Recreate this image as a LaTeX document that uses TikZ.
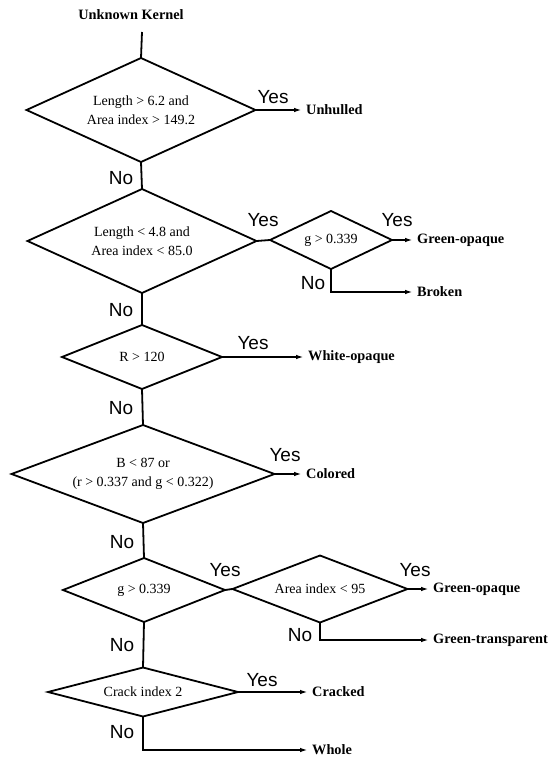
\documentclass[tikz,border=0pt]{standalone}
\usepackage{fontspec}
\setmainfont{Liberation Serif}
\newfontfamily\labsans{Liberation Sans}
\usetikzlibrary{arrows.meta,shapes.geometric}
\newcommand{\condfont}{\fontsize{14}{19.5}\selectfont}
\newcommand{\leaffont}{\fontsize{14.3}{16}\selectfont\bfseries}
\newcommand{\ansfont}{\labsans\fontsize{19}{20}\selectfont}
\tikzset{
  wire/.style={black,line width=1.8pt},
  flow/.style={wire,-{Latex[length=8pt,width=4.5pt]}},
  test/.style={diamond,draw=black,line width=1.8pt,inner sep=0pt,outer sep=0pt,
               align=center,font=\condfont},
  leaf/.style={anchor=west,inner sep=4pt,font=\leaffont},
  ans/.style={inner sep=0pt,font=\ansfont},
}

\begin{document}
\begin{tikzpicture}[x=1pt,y=-1pt]
  \path[use as bounding box] (0,0) rectangle (559,757);
  \node[font=\leaffont] (kernel) at (131,15) {Unknown Kernel};
  \coordinate (entry) at (142,32);

  % tests on the main axis
  \node[test,aspect=2.2,minimum width=229,minimum height=104] (LEN1) at (141,110)
    {Length > 6.2 and\\Area index > 149.2};
  \node[test,aspect=2.2,minimum width=229,minimum height=104] (LEN2) at (142,241)
    {Length < 4.8 and\\Area index < 85.0};
  \node[test,aspect=2.1,minimum width=122,minimum height=58] (G1) at (331,240) {g > 0.339};
  \node[test,aspect=2.5,minimum width=160,minimum height=64] (RED) at (142,357) {R > 120};
  \node[test,aspect=2.68,minimum width=263,minimum height=98] (COL) at (143,474)
    {B < 87 or\\(r > 0.337 and g < 0.322)};
  \node[test,aspect=2.53,minimum width=162,minimum height=64] (G2) at (144,590) {g > 0.339};
  \node[test,aspect=2.61,minimum width=175,minimum height=67] (AREA) at (320,589) {Area index < 95};
  \node[test,aspect=3.88,minimum width=190,minimum height=49] (CRACK) at (143,692) {Crack index 2};

  % outcomes
  \node[leaf] (unhulled) at (302,110) {Unhulled};
  \node[leaf] (gropaque1) at (413,240) {Green-opaque};
  \node[leaf] (broken) at (413,292) {Broken};
  \node[leaf] (whiteop) at (304,357) {White-opaque};
  \node[leaf] (colored) at (302,474) {Colored};
  \node[leaf] (gropaque2) at (429,589) {Green-opaque};
  \node[leaf] (grtrans) at (429,640) {Green-transparent};
  \node[leaf] (cracked) at (308,692) {Cracked};
  \node[leaf] (whole) at (308,750) {Whole};

  % connectors
  \draw[wire] (entry)--(LEN1.north);
  \draw[flow] (LEN1.east)--(unhulled.west);
  \draw[wire] (LEN1.south)--(LEN2.north);
  \draw[wire] (LEN2.east)--(G1.west);
  \draw[flow] (G1.east)--(gropaque1.west);
  \draw[flow] (G1.south)|-(broken.west);
  \draw[wire] (LEN2.south)--(RED.north);
  \draw[flow] (RED.east)--(whiteop.west);
  \draw[wire] (RED.south)--(COL.north);
  \draw[flow] (COL.east)--(colored.west);
  \draw[wire] (COL.south)--(G2.north);
  \draw[wire] (G2.east)--(AREA.west);
  \draw[flow] (AREA.east)--(gropaque2.west);
  \draw[flow] (AREA.south)|-(grtrans.west);
  \draw[wire] (G2.south)--(CRACK.north);
  \draw[flow] (CRACK.east)--(cracked.west);
  \draw[flow] (CRACK.south)|-(whole.west);

  % yes / no labels
  \node[ans] (y1) at (273,97) {Yes};
  \node[ans] (n1) at (121,178) {No};
  \node[ans] (y2) at (263,220) {Yes};
  \node[ans] (y3) at (397,220) {Yes};
  \node[ans] (n3) at (313,283) {No};
  \node[ans] (n2) at (121,310) {No};
  \node[ans] (y4) at (253,343) {Yes};
  \node[ans] (n4) at (121,408) {No};
  \node[ans] (y5) at (285,455) {Yes};
  \node[ans] (n5) at (122,542) {No};
  \node[ans] (y6) at (225,570) {Yes};
  \node[ans] (y7) at (415,570) {Yes};
  \node[ans] (n7) at (300,635) {No};
  \node[ans] (n6) at (122,645) {No};
  \node[ans] (y8) at (262,680) {Yes};
  \node[ans] (n8) at (122,732) {No};
\end{tikzpicture}
\end{document}
